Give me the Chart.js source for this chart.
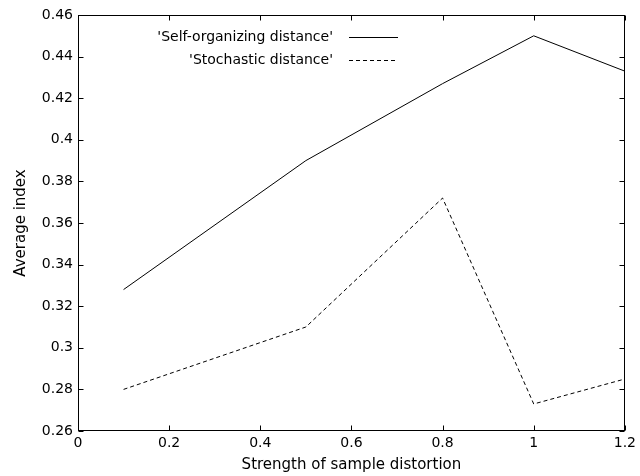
<!DOCTYPE html>
<html>
<head>
<meta charset="utf-8">
<script src="https://cdn.jsdelivr.net/npm/chart.js@4"></script>
<style>
  body { margin: 0; background: #fff; }
  canvas { display: block; }
</style>
</head>
<body>
<canvas id="chart" width="640" height="476"></canvas>
<script>
// distortion strengths and the two measured curves
const distortion = [0.1, 0.5, 0.8, 1.0, 1.2];
const selfOrganizing = [0.328, 0.390, 0.427, 0.450, 0.433];
const stochastic = [0.280, 0.310, 0.372, 0.273, 0.285];

const xTicks = [0, 0.2, 0.4, 0.6, 0.8, 1, 1.2];
const yTicks = [0.26, 0.28, 0.3, 0.32, 0.34, 0.36, 0.38, 0.4, 0.42, 0.44, 0.46];

const FONT = 'DejaVu Sans, sans-serif';

const toPoints = (xs, ys) => xs.map((x, i) => ({ x, y: ys[i] }));
const fmt = (v) => String(Number(v.toFixed(2)));

// box around the plot, inward tick marks on all four sides, legend in the corner
const framePlugin = {
  id: 'frame',
  afterDatasetsDraw(chart) {
    const { ctx, chartArea: a, scales: { x, y } } = chart;
    ctx.save();
    ctx.strokeStyle = '#000';
    ctx.lineWidth = 1;
    const L = Math.round(a.left) + 0.5, R = Math.round(a.right) - 0.5;
    const T = Math.round(a.top) + 0.5, B = Math.round(a.bottom) - 0.5;
    ctx.strokeRect(L, T, R - L, B - T);

    ctx.beginPath();
    xTicks.forEach(v => {
      const px = Math.round(x.getPixelForValue(v)) + 0.5;
      ctx.moveTo(px, B); ctx.lineTo(px, B - 5);
      ctx.moveTo(px, T); ctx.lineTo(px, T + 5);
    });
    yTicks.forEach(v => {
      const py = Math.round(y.getPixelForValue(v)) + 0.5;
      ctx.moveTo(L, py); ctx.lineTo(L + 5, py);
      ctx.moveTo(R, py); ctx.lineTo(R - 5, py);
    });
    ctx.stroke();

    // legend
    ctx.font = '14px ' + FONT;
    ctx.fillStyle = '#000';
    ctx.textAlign = 'right';
    ctx.textBaseline = 'middle';
    chart.data.datasets.forEach((ds, i) => {
      const yy = a.top + 22 + i * 23;
      ctx.fillText(ds.label, a.left + 255, yy);
      ctx.setLineDash(ds.borderDash || []);
      ctx.beginPath();
      ctx.moveTo(a.left + 271, Math.round(yy) + 0.5);
      ctx.lineTo(a.left + 320, Math.round(yy) + 0.5);
      ctx.stroke();
    });
    ctx.restore();
  }
};

new Chart(document.getElementById('chart'), {
  type: 'line',
  data: {
    datasets: [
      {
        label: "'Self-organizing distance'",
        data: toPoints(distortion, selfOrganizing),
        borderColor: '#000',
        borderWidth: 1,
        pointRadius: 0,
        tension: 0,
      },
      {
        label: "'Stochastic distance'",
        data: toPoints(distortion, stochastic),
        borderColor: '#000',
        borderWidth: 1,
        borderDash: [4, 3],
        pointRadius: 0,
        tension: 0,
      }
    ]
  },
  options: {
    responsive: false,
    animation: false,
    layout: { padding: { top: 15, right: 13, left: 0, bottom: 0 } },
    plugins: {
      legend: { display: false },
      tooltip: { enabled: false }
    },
    scales: {
      x: {
        type: 'linear',
        min: 0,
        max: 1.2,
        afterBuildTicks: (s) => { s.ticks = xTicks.map(v => ({ value: v })); },
        afterFit: (s) => { s.height = 45; },
        grid: { display: false, drawTicks: false },
        border: { display: false },
        ticks: {
          color: '#000',
          padding: 4,
          maxRotation: 0,
          font: { family: FONT, size: 14 },
          callback: (v) => fmt(v)
        },
        title: {
          display: true,
          text: 'Strength of sample distortion',
          color: '#000',
          padding: { top: 0, bottom: 2 },
          font: { family: FONT, size: 15 }
        }
      },
      y: {
        type: 'linear',
        min: 0.26,
        max: 0.46,
        afterBuildTicks: (s) => { s.ticks = yTicks.map(v => ({ value: v })); },
        afterFit: (s) => { s.width = 78; },
        grid: { display: false, drawTicks: false },
        border: { display: false },
        ticks: {
          color: '#000',
          padding: 5,
          font: { family: FONT, size: 14 },
          callback: (v) => fmt(v)
        },
        title: {
          display: true,
          text: 'Average index',
          color: '#000',
          padding: { top: 12, bottom: 0 },
          font: { family: FONT, size: 15 }
        }
      }
    }
  },
  plugins: [framePlugin]
});
</script>
</body>
</html>
